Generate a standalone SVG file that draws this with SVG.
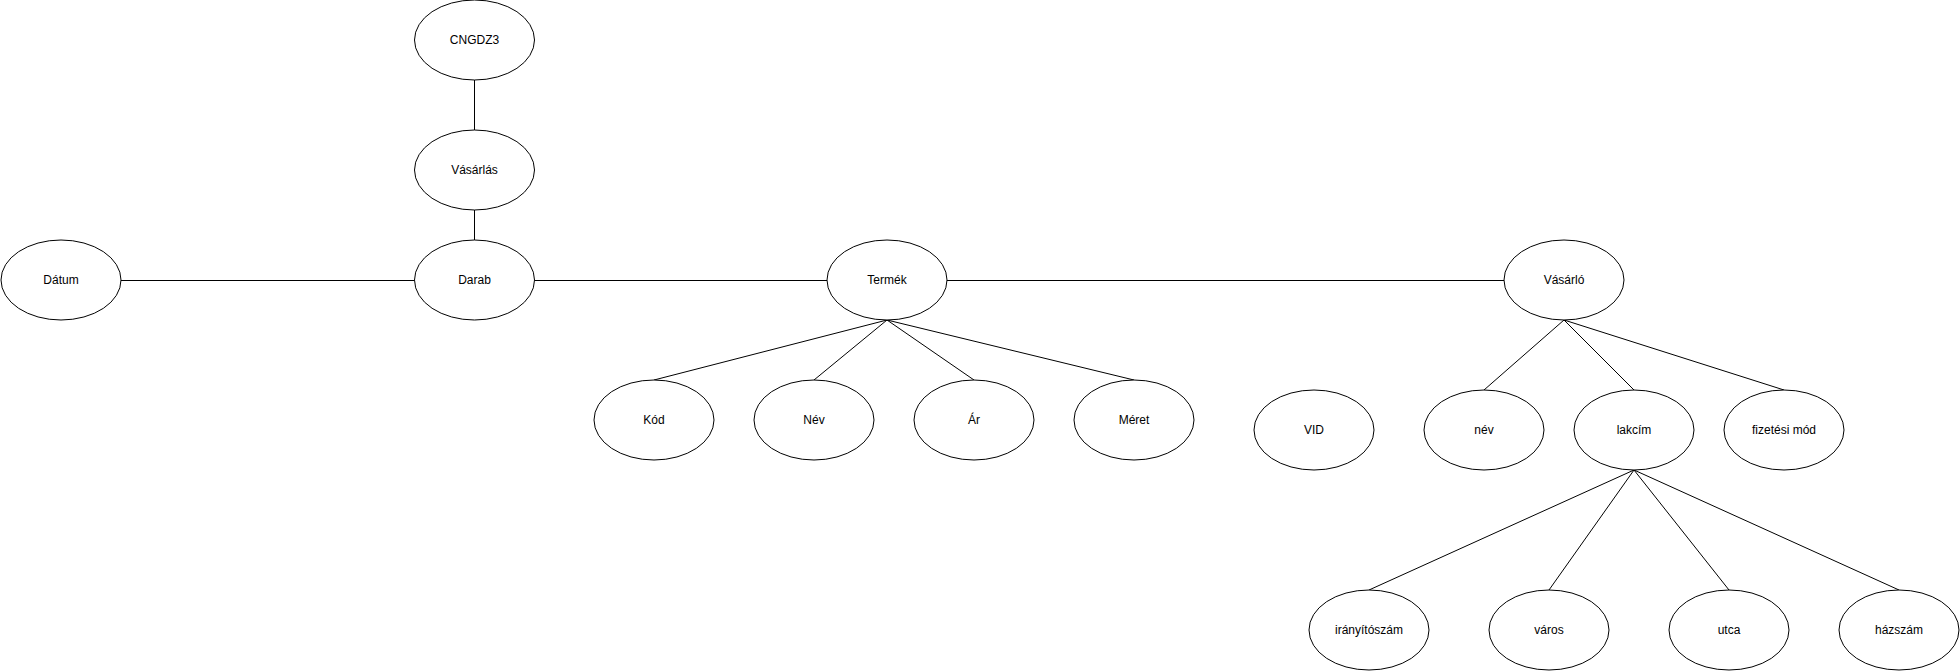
<svg xmlns="http://www.w3.org/2000/svg" width="1960" height="672" viewBox="0 0 1960 672">
<style>
.n ellipse{fill:#fff;stroke:#000;stroke-width:1}
.n text{font-family:"Liberation Sans",Arial,sans-serif;font-size:12px;fill:#000;text-anchor:middle;dominant-baseline:central}
#edges line{stroke:#000;stroke-width:1;fill:none}
</style>
<rect width="1960" height="672" fill="#fff"/>
<g id="edges">
<line x1="474.5" y1="80" x2="474.5" y2="130"/>
<line x1="474.5" y1="210" x2="474.5" y2="240"/>
<line x1="121" y1="280.5" x2="414" y2="280.5"/>
<line x1="535" y1="280.5" x2="827" y2="280.5"/>
<line x1="947" y1="280.5" x2="1504" y2="280.5"/>
<line x1="887" y1="320" x2="654" y2="380"/>
<line x1="887" y1="320" x2="814" y2="380"/>
<line x1="887" y1="320" x2="974" y2="380"/>
<line x1="887" y1="320" x2="1134" y2="380"/>
<line x1="1564" y1="320" x2="1484" y2="390"/>
<line x1="1564" y1="320" x2="1634" y2="390"/>
<line x1="1564" y1="320" x2="1784" y2="390"/>
<line x1="1634" y1="470" x2="1369" y2="590"/>
<line x1="1634" y1="470" x2="1549" y2="590"/>
<line x1="1634" y1="470" x2="1729" y2="590"/>
<line x1="1634" y1="470" x2="1899" y2="590"/>
</g>
<g id="cngdz3" class="n"><ellipse cx="474.5" cy="40" rx="60" ry="40"/><text x="474.5" y="40">CNGDZ3</text></g>
<g id="vasarlas" class="n"><ellipse cx="474.5" cy="170" rx="60" ry="40"/><text x="474.5" y="170">Vásárlás</text></g>
<g id="darab" class="n"><ellipse cx="474.5" cy="280" rx="60" ry="40"/><text x="474.5" y="280">Darab</text></g>
<g id="datum" class="n"><ellipse cx="61" cy="280" rx="60" ry="40"/><text x="61" y="280">Dátum</text></g>
<g id="termek" class="n"><ellipse cx="887" cy="280" rx="60" ry="40"/><text x="887" y="280">Termék</text></g>
<g id="kod" class="n"><ellipse cx="654" cy="420" rx="60" ry="40"/><text x="654" y="420">Kód</text></g>
<g id="nev" class="n"><ellipse cx="814" cy="420" rx="60" ry="40"/><text x="814" y="420">Név</text></g>
<g id="ar" class="n"><ellipse cx="974" cy="420" rx="60" ry="40"/><text x="974" y="420">Ár</text></g>
<g id="meret" class="n"><ellipse cx="1134" cy="420" rx="60" ry="40"/><text x="1134" y="420">Méret</text></g>
<g id="vasarlo" class="n"><ellipse cx="1564" cy="280" rx="60" ry="40"/><text x="1564" y="280">Vásárló</text></g>
<g id="vid" class="n"><ellipse cx="1314" cy="430" rx="60" ry="40"/><text x="1314" y="430">VID</text></g>
<g id="nev2" class="n"><ellipse cx="1484" cy="430" rx="60" ry="40"/><text x="1484" y="430">név</text></g>
<g id="lakcim" class="n"><ellipse cx="1634" cy="430" rx="60" ry="40"/><text x="1634" y="430">lakcím</text></g>
<g id="fizetesi" class="n"><ellipse cx="1784" cy="430" rx="60" ry="40"/><text x="1784" y="430">fizetési mód</text></g>
<g id="iranyitoszam" class="n"><ellipse cx="1369" cy="630" rx="60" ry="40"/><text x="1369" y="630">irányítószám</text></g>
<g id="varos" class="n"><ellipse cx="1549" cy="630" rx="60" ry="40"/><text x="1549" y="630">város</text></g>
<g id="utca" class="n"><ellipse cx="1729" cy="630" rx="60" ry="40"/><text x="1729" y="630">utca</text></g>
<g id="hazszam" class="n"><ellipse cx="1899" cy="630" rx="60" ry="40"/><text x="1899" y="630">házszám</text></g>
</svg>
